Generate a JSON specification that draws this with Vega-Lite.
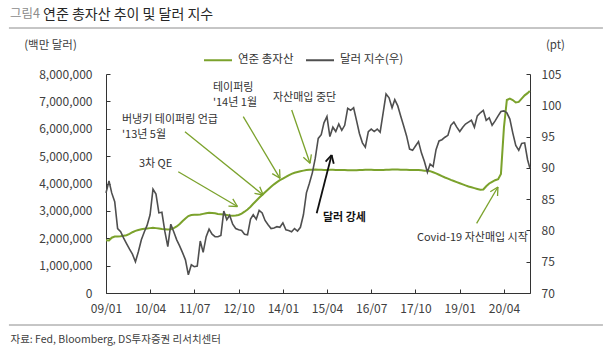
{
  "$schema": "https://vega.github.io/schema/vega-lite/v6.json",
  "width": 424,
  "height": 219,
  "autosize": {"type": "none"},
  "padding": {"left": 106, "top": 74, "right": 84, "bottom": 60},
  "background": "white",
  "title": {
    "text": "연준 총자산 추이 및 달러 지수",
    "anchor": "start",
    "frame": "group",
    "dx": -63,
    "dy": 14,
    "offset": 0,
    "font": "Noto Sans CJK KR",
    "fontSize": 14,
    "fontWeight": "normal",
    "color": "#262626"
  },
  "datasets": {
    "series": [
      {"date": "2009-01-01", "assets": 1930000, "dxy": 86.0},
      {"date": "2009-02-01", "assets": 1920000, "dxy": 87.9},
      {"date": "2009-03-01", "assets": 2020000, "dxy": 86.0},
      {"date": "2009-04-01", "assets": 2060000, "dxy": 84.6},
      {"date": "2009-05-01", "assets": 2060000, "dxy": 80.3},
      {"date": "2009-06-01", "assets": 2070000, "dxy": 79.8},
      {"date": "2009-07-01", "assets": 2090000, "dxy": 78.8},
      {"date": "2009-08-01", "assets": 2110000, "dxy": 77.9},
      {"date": "2009-09-01", "assets": 2160000, "dxy": 77.0},
      {"date": "2009-10-01", "assets": 2220000, "dxy": 76.2},
      {"date": "2009-11-01", "assets": 2270000, "dxy": 75.0},
      {"date": "2009-12-01", "assets": 2300000, "dxy": 76.6},
      {"date": "2010-01-01", "assets": 2330000, "dxy": 78.5},
      {"date": "2010-02-01", "assets": 2350000, "dxy": 79.8},
      {"date": "2010-03-01", "assets": 2360000, "dxy": 80.8},
      {"date": "2010-04-01", "assets": 2370000, "dxy": 82.5},
      {"date": "2010-05-01", "assets": 2380000, "dxy": 86.6},
      {"date": "2010-06-01", "assets": 2370000, "dxy": 85.8},
      {"date": "2010-07-01", "assets": 2360000, "dxy": 82.8},
      {"date": "2010-08-01", "assets": 2340000, "dxy": 82.9},
      {"date": "2010-09-01", "assets": 2330000, "dxy": 79.8},
      {"date": "2010-10-01", "assets": 2320000, "dxy": 77.4},
      {"date": "2010-11-01", "assets": 2330000, "dxy": 81.0},
      {"date": "2010-12-01", "assets": 2370000, "dxy": 79.8},
      {"date": "2011-01-01", "assets": 2430000, "dxy": 78.5},
      {"date": "2011-02-01", "assets": 2520000, "dxy": 77.5},
      {"date": "2011-03-01", "assets": 2620000, "dxy": 76.5},
      {"date": "2011-04-01", "assets": 2720000, "dxy": 75.3},
      {"date": "2011-05-01", "assets": 2810000, "dxy": 72.9},
      {"date": "2011-06-01", "assets": 2850000, "dxy": 74.5},
      {"date": "2011-07-01", "assets": 2860000, "dxy": 74.2},
      {"date": "2011-08-01", "assets": 2860000, "dxy": 74.3},
      {"date": "2011-09-01", "assets": 2870000, "dxy": 78.3},
      {"date": "2011-10-01", "assets": 2890000, "dxy": 76.5},
      {"date": "2011-11-01", "assets": 2910000, "dxy": 79.0},
      {"date": "2011-12-01", "assets": 2930000, "dxy": 80.2},
      {"date": "2012-01-01", "assets": 2920000, "dxy": 79.4},
      {"date": "2012-02-01", "assets": 2910000, "dxy": 79.0},
      {"date": "2012-03-01", "assets": 2890000, "dxy": 79.0},
      {"date": "2012-04-01", "assets": 2880000, "dxy": 79.2},
      {"date": "2012-05-01", "assets": 2870000, "dxy": 83.1},
      {"date": "2012-06-01", "assets": 2850000, "dxy": 81.7},
      {"date": "2012-07-01", "assets": 2830000, "dxy": 82.4},
      {"date": "2012-08-01", "assets": 2820000, "dxy": 81.0},
      {"date": "2012-09-01", "assets": 2830000, "dxy": 80.3},
      {"date": "2012-10-01", "assets": 2850000, "dxy": 80.1},
      {"date": "2012-11-01", "assets": 2900000, "dxy": 80.0},
      {"date": "2012-12-01", "assets": 2970000, "dxy": 79.4},
      {"date": "2013-01-01", "assets": 3050000, "dxy": 79.3},
      {"date": "2013-02-01", "assets": 3150000, "dxy": 81.8},
      {"date": "2013-03-01", "assets": 3260000, "dxy": 82.5},
      {"date": "2013-04-01", "assets": 3370000, "dxy": 81.8},
      {"date": "2013-05-01", "assets": 3480000, "dxy": 83.2},
      {"date": "2013-06-01", "assets": 3580000, "dxy": 82.8},
      {"date": "2013-07-01", "assets": 3680000, "dxy": 81.6},
      {"date": "2013-08-01", "assets": 3780000, "dxy": 80.9},
      {"date": "2013-09-01", "assets": 3880000, "dxy": 80.3},
      {"date": "2013-10-01", "assets": 3970000, "dxy": 80.4},
      {"date": "2013-11-01", "assets": 4050000, "dxy": 80.6},
      {"date": "2013-12-01", "assets": 4120000, "dxy": 80.5},
      {"date": "2014-01-01", "assets": 4180000, "dxy": 81.2},
      {"date": "2014-02-01", "assets": 4240000, "dxy": 80.1},
      {"date": "2014-03-01", "assets": 4300000, "dxy": 80.0},
      {"date": "2014-04-01", "assets": 4350000, "dxy": 79.8},
      {"date": "2014-05-01", "assets": 4390000, "dxy": 80.3},
      {"date": "2014-06-01", "assets": 4420000, "dxy": 79.9},
      {"date": "2014-07-01", "assets": 4450000, "dxy": 80.5},
      {"date": "2014-08-01", "assets": 4470000, "dxy": 82.5},
      {"date": "2014-09-01", "assets": 4490000, "dxy": 86.0},
      {"date": "2014-10-01", "assets": 4500000, "dxy": 87.5},
      {"date": "2014-11-01", "assets": 4500000, "dxy": 89.2},
      {"date": "2014-12-01", "assets": 4510000, "dxy": 91.5},
      {"date": "2015-01-01", "assets": 4500000, "dxy": 94.7},
      {"date": "2015-02-01", "assets": 4500000, "dxy": 95.3},
      {"date": "2015-03-01", "assets": 4490000, "dxy": 97.2},
      {"date": "2015-04-01", "assets": 4490000, "dxy": 98.2},
      {"date": "2015-05-01", "assets": 4500000, "dxy": 95.0},
      {"date": "2015-06-01", "assets": 4500000, "dxy": 96.5},
      {"date": "2015-07-01", "assets": 4490000, "dxy": 95.8},
      {"date": "2015-08-01", "assets": 4490000, "dxy": 97.0},
      {"date": "2015-09-01", "assets": 4490000, "dxy": 96.0},
      {"date": "2015-10-01", "assets": 4490000, "dxy": 96.8},
      {"date": "2015-11-01", "assets": 4480000, "dxy": 99.5},
      {"date": "2015-12-01", "assets": 4480000, "dxy": 99.2},
      {"date": "2016-01-01", "assets": 4480000, "dxy": 99.6},
      {"date": "2016-02-01", "assets": 4480000, "dxy": 97.5},
      {"date": "2016-03-01", "assets": 4490000, "dxy": 95.5},
      {"date": "2016-04-01", "assets": 4490000, "dxy": 94.0},
      {"date": "2016-05-01", "assets": 4500000, "dxy": 93.3},
      {"date": "2016-06-01", "assets": 4500000, "dxy": 95.8},
      {"date": "2016-07-01", "assets": 4500000, "dxy": 96.2},
      {"date": "2016-08-01", "assets": 4490000, "dxy": 95.8},
      {"date": "2016-09-01", "assets": 4490000, "dxy": 96.2},
      {"date": "2016-10-01", "assets": 4490000, "dxy": 95.7},
      {"date": "2016-11-01", "assets": 4490000, "dxy": 98.8},
      {"date": "2016-12-01", "assets": 4500000, "dxy": 101.8},
      {"date": "2017-01-01", "assets": 4500000, "dxy": 101.2},
      {"date": "2017-02-01", "assets": 4510000, "dxy": 99.6},
      {"date": "2017-03-01", "assets": 4510000, "dxy": 100.9},
      {"date": "2017-04-01", "assets": 4510000, "dxy": 99.9},
      {"date": "2017-05-01", "assets": 4500000, "dxy": 98.3},
      {"date": "2017-06-01", "assets": 4500000, "dxy": 96.7},
      {"date": "2017-07-01", "assets": 4500000, "dxy": 95.1},
      {"date": "2017-08-01", "assets": 4490000, "dxy": 93.0},
      {"date": "2017-09-01", "assets": 4490000, "dxy": 92.8},
      {"date": "2017-10-01", "assets": 4490000, "dxy": 93.5},
      {"date": "2017-11-01", "assets": 4490000, "dxy": 94.2},
      {"date": "2017-12-01", "assets": 4480000, "dxy": 92.4},
      {"date": "2018-01-01", "assets": 4470000, "dxy": 91.0},
      {"date": "2018-02-01", "assets": 4470000, "dxy": 89.3},
      {"date": "2018-03-01", "assets": 4450000, "dxy": 90.6},
      {"date": "2018-04-01", "assets": 4410000, "dxy": 90.2},
      {"date": "2018-05-01", "assets": 4370000, "dxy": 92.9},
      {"date": "2018-06-01", "assets": 4320000, "dxy": 94.3},
      {"date": "2018-07-01", "assets": 4270000, "dxy": 94.5},
      {"date": "2018-08-01", "assets": 4220000, "dxy": 94.9},
      {"date": "2018-09-01", "assets": 4180000, "dxy": 95.2},
      {"date": "2018-10-01", "assets": 4130000, "dxy": 96.8},
      {"date": "2018-11-01", "assets": 4090000, "dxy": 97.3},
      {"date": "2018-12-01", "assets": 4050000, "dxy": 96.5},
      {"date": "2019-01-01", "assets": 4010000, "dxy": 95.8},
      {"date": "2019-02-01", "assets": 3970000, "dxy": 96.5},
      {"date": "2019-03-01", "assets": 3930000, "dxy": 97.0},
      {"date": "2019-04-01", "assets": 3890000, "dxy": 97.3},
      {"date": "2019-05-01", "assets": 3860000, "dxy": 97.6},
      {"date": "2019-06-01", "assets": 3830000, "dxy": 96.5},
      {"date": "2019-07-01", "assets": 3800000, "dxy": 98.3},
      {"date": "2019-08-01", "assets": 3770000, "dxy": 98.8},
      {"date": "2019-09-01", "assets": 3780000, "dxy": 99.2},
      {"date": "2019-10-01", "assets": 3900000, "dxy": 97.6},
      {"date": "2019-11-01", "assets": 4000000, "dxy": 98.0},
      {"date": "2019-12-01", "assets": 4060000, "dxy": 96.8},
      {"date": "2020-01-01", "assets": 4120000, "dxy": 97.5},
      {"date": "2020-02-01", "assets": 4160000, "dxy": 98.3},
      {"date": "2020-03-01", "assets": 4350000, "dxy": 99.0},
      {"date": "2020-04-01", "assets": 6050000, "dxy": 99.1},
      {"date": "2020-05-01", "assets": 7050000, "dxy": 98.8},
      {"date": "2020-06-01", "assets": 7100000, "dxy": 97.8},
      {"date": "2020-07-01", "assets": 7050000, "dxy": 95.6},
      {"date": "2020-08-01", "assets": 6960000, "dxy": 93.6},
      {"date": "2020-09-01", "assets": 6980000, "dxy": 92.8},
      {"date": "2020-10-01", "assets": 7100000, "dxy": 93.9},
      {"date": "2020-11-01", "assets": 7220000, "dxy": 94.0},
      {"date": "2020-12-01", "assets": 7300000, "dxy": 91.3},
      {"date": "2020-12-24", "assets": 7380000, "dxy": 90.0}
    ],
    "arrows": [
      {"arrow": "3차 QE", "date": "2011-01-17", "v": 4431000, "date2": "2012-09-19", "v2": 3159800},
      {"arrow": "3차 QE", "date": "2012-09-19", "v": 3159800, "date2": "2012-08-02", "v2": 3441100},
      {"arrow": "3차 QE", "date": "2012-09-19", "v": 3159800, "date2": "2012-06-18", "v2": 3174500},
      {"arrow": "버냉키", "date": "2011-03-27", "v": 5892300, "date2": "2013-06-12", "v2": 3579900},
      {"arrow": "버냉키", "date": "2013-06-12", "v": 3579900, "date2": "2013-05-07", "v2": 3883100},
      {"arrow": "버냉키", "date": "2013-06-12", "v": 3579900, "date2": "2013-03-14", "v2": 3642000},
      {"arrow": "테이퍼링", "date": "2012-11-18", "v": 6440200, "date2": "2013-12-02", "v2": 4190000},
      {"arrow": "테이퍼링", "date": "2013-12-02", "v": 4190000, "date2": "2013-11-28", "v2": 4518800},
      {"arrow": "테이퍼링", "date": "2013-12-02", "v": 4190000, "date2": "2013-09-13", "v2": 4361700},
      {"arrow": "자산매입 중단", "date": "2014-04-02", "v": 6685000, "date2": "2014-10-08", "v2": 4737900},
      {"arrow": "자산매입 중단", "date": "2014-10-08", "v": 4737900, "date2": "2014-10-22", "v2": 5063100},
      {"arrow": "자산매입 중단", "date": "2014-10-08", "v": 4737900, "date2": "2014-07-31", "v2": 4960800},
      {"arrow": "달러 강세", "date": "2014-12-16", "v": 2911400, "date2": "2015-05-19", "v2": 5041100},
      {"arrow": "달러 강세", "date": "2015-05-19", "v": 5041100, "date2": "2015-03-18", "v2": 4800000},
      {"arrow": "달러 강세", "date": "2015-05-19", "v": 5041100, "date2": "2015-06-10", "v2": 4723300},
      {"arrow": "Covid-19", "date": "2019-06-24", "v": 2546100, "date2": "2020-01-30", "v2": 3872200},
      {"arrow": "Covid-19", "date": "2020-01-30", "v": 3872200, "date2": "2019-11-12", "v2": 3700500},
      {"arrow": "Covid-19", "date": "2020-01-30", "v": 3872200, "date2": "2020-01-26", "v2": 3543400}
    ],
    "notes": [
      {"label": "3차 QE", "date": "2009-12-07", "v": 4701400},
      {"label": "버냉키 테이퍼링 언급", "date": "2009-06-15", "v": 6319700},
      {"label": "'13년 5월", "date": "2009-06-15", "v": 5771700},
      {"label": "테이퍼링", "date": "2012-01-10", "v": 7477700},
      {"label": "'14년 1월", "date": "2012-01-10", "v": 6951700},
      {"label": "자산매입 중단", "date": "2013-09-21", "v": 7112400},
      {"label": "Covid-19 자산매입 시작", "date": "2017-10-16", "v": 2020100}
    ],
    "strong": [
      {"label": "달러 강세", "date": "2015-02-19", "v": 2728800}
    ],
    "figno": [
      {"label": "그림4", "date": "2006-04-16", "v": 10191870}
    ],
    "rules": [
      {"edge": "top", "date": "2006-04-05", "date2": "2023-01-18", "v": 9680000},
      {"edge": "bottom", "date": "2006-04-05", "date2": "2023-01-18", "v": -1169000}
    ]
  },
  "layer": [
    {
      "encoding": {
        "x": {
          "field": "date", "type": "temporal",
          "scale": {"type": "utc", "domain": [{"year": 2009, "month": 1, "date": 1, "utc": true}, {"year": 2020, "month": 12, "date": 26, "utc": true}], "nice": false},
          "axis": {
            "values": [
              {"year": 2009, "month": 1, "date": 1, "utc": true},
              {"year": 2010, "month": 4, "date": 1, "utc": true},
              {"year": 2011, "month": 7, "date": 1, "utc": true},
              {"year": 2012, "month": 10, "date": 1, "utc": true},
              {"year": 2014, "month": 1, "date": 1, "utc": true},
              {"year": 2015, "month": 4, "date": 1, "utc": true},
              {"year": 2016, "month": 7, "date": 1, "utc": true},
              {"year": 2017, "month": 10, "date": 1, "utc": true},
              {"year": 2019, "month": 1, "date": 1, "utc": true},
              {"year": 2020, "month": 4, "date": 1, "utc": true}
            ],
            "format": "%y/%m",
            "labelPadding": 14,
            "labelFlush": false,
            "title": "자료: Fed, Bloomberg, DS투자증권 리서치센터",
            "titleX": -96,
            "titleY": 46,
            "titleAlign": "left",
            "titleBaseline": "middle",
            "titleFontSize": 10.5,
            "titleFontWeight": "normal",
            "titleColor": "#404040"
          }
        },
        "y": {
          "field": "v", "type": "quantitative",
          "scale": {"domain": [0, 8000000], "nice": false},
          "axis": {
            "orient": "left",
            "values": [0, 1000000, 2000000, 3000000, 4000000, 5000000, 6000000, 7000000, 8000000],
            "labelExpr": "format(datum.value, ',')",
            "labelPadding": 18,
            "title": "(백만 달러)",
            "titleAngle": 0,
            "titleX": -56,
            "titleY": -29,
            "titleAlign": "center",
            "titleBaseline": "middle",
            "titleFontSize": 11.5,
            "titleFontWeight": "normal",
            "titleColor": "#404040"
          }
        }
      },
      "layer": [
        {
          "data": {"name": "series"},
          "mark": {"type": "line", "strokeWidth": 2},
          "encoding": {
            "y": {
              "field": "assets", "type": "quantitative",
              "scale": {"domain": [0, 8000000], "nice": false},
              "axis": {
                "orient": "left",
                "values": [0, 1000000, 2000000, 3000000, 4000000, 5000000, 6000000, 7000000, 8000000],
                "labelExpr": "format(datum.value, ',')",
                "labelPadding": 18,
                "title": "(백만 달러)",
                "titleAngle": 0,
                "titleX": -56,
                "titleY": -29,
                "titleAlign": "center",
                "titleBaseline": "middle",
                "titleFontSize": 11.5,
                "titleFontWeight": "normal",
                "titleColor": "#404040"
              }
            },
            "color": {
              "datum": "연준 총자산", "type": "nominal",
              "scale": {"domain": ["연준 총자산", "달러 지수(우)"], "range": ["#7ba22c", "#4f4f4f"]},
              "legend": {
                "orient": "none", "legendX": 97, "legendY": -29, "direction": "horizontal",
                "title": null, "symbolType": "stroke", "symbolSize": 784, "symbolStrokeWidth": 2,
                "labelFont": "Noto Sans CJK KR", "labelFontSize": 11.5, "labelColor": "#333333",
                "labelOffset": 5, "columnPadding": 8, "padding": 0
              }
            }
          }
        },
        {
          "data": {"name": "arrows"},
          "transform": [{"filter": "datum.arrow !== '달러 강세'"}],
          "mark": {"type": "rule", "color": "#7ba22c", "strokeWidth": 1.3},
          "encoding": {"x2": {"field": "date2"}, "y2": {"field": "v2"}}
        },
        {
          "data": {"name": "arrows"},
          "transform": [{"filter": "datum.arrow === '달러 강세'"}],
          "mark": {"type": "rule", "color": "#111111", "strokeWidth": 1.8},
          "encoding": {"x2": {"field": "date2"}, "y2": {"field": "v2"}}
        },
        {
          "data": {"name": "notes"},
          "mark": {"type": "text", "align": "left", "baseline": "middle", "font": "Noto Sans CJK KR", "fontSize": 11, "color": "#333333"},
          "encoding": {"text": {"field": "label"}}
        },
        {
          "data": {"name": "strong"},
          "mark": {"type": "text", "align": "left", "baseline": "middle", "font": "Noto Sans CJK KR", "fontSize": 11, "fontWeight": "bold", "color": "#111111"},
          "encoding": {"text": {"field": "label"}}
        },
        {
          "data": {"name": "figno"},
          "mark": {"type": "text", "align": "left", "baseline": "middle", "font": "Noto Sans CJK KR", "fontSize": 12.5, "color": "#8c8c8c"},
          "encoding": {"text": {"field": "label"}}
        },
        {
          "data": {"name": "rules"},
          "mark": {"type": "rule", "color": "#8c8c8c", "strokeWidth": 1, "clip": false},
          "encoding": {"x2": {"field": "date2"}}
        }
      ]
    },
    {
      "data": {"name": "series"},
      "mark": {"type": "line", "strokeWidth": 1.6},
      "encoding": {
        "x": {
          "field": "date", "type": "temporal",
          "scale": {"type": "utc", "domain": [{"year": 2009, "month": 1, "date": 1, "utc": true}, {"year": 2020, "month": 12, "date": 26, "utc": true}], "nice": false},
          "axis": {
            "values": [
              {"year": 2009, "month": 1, "date": 1, "utc": true},
              {"year": 2010, "month": 4, "date": 1, "utc": true},
              {"year": 2011, "month": 7, "date": 1, "utc": true},
              {"year": 2012, "month": 10, "date": 1, "utc": true},
              {"year": 2014, "month": 1, "date": 1, "utc": true},
              {"year": 2015, "month": 4, "date": 1, "utc": true},
              {"year": 2016, "month": 7, "date": 1, "utc": true},
              {"year": 2017, "month": 10, "date": 1, "utc": true},
              {"year": 2019, "month": 1, "date": 1, "utc": true},
              {"year": 2020, "month": 4, "date": 1, "utc": true}
            ],
            "format": "%y/%m",
            "labelPadding": 14,
            "labelFlush": false,
            "title": "자료: Fed, Bloomberg, DS투자증권 리서치센터",
            "titleX": -96,
            "titleY": 46,
            "titleAlign": "left",
            "titleBaseline": "middle",
            "titleFontSize": 10.5,
            "titleFontWeight": "normal",
            "titleColor": "#404040"
          }
        },
        "y": {
          "field": "dxy", "type": "quantitative",
          "scale": {"domain": [70, 105], "nice": false, "zero": false},
          "axis": {
            "orient": "right",
            "values": [70, 75, 80, 85, 90, 95, 100, 105],
            "labelPadding": 15,
            "title": "(pt)",
            "titleAngle": 0,
            "titleX": 25,
            "titleY": -29,
            "titleAlign": "center",
            "titleBaseline": "middle",
            "titleFontSize": 11.5,
            "titleFontWeight": "normal",
            "titleColor": "#404040"
          }
        },
        "color": {"datum": "달러 지수(우)", "type": "nominal"}
      }
    }
  ],
  "resolve": {"scale": {"y": "independent"}},
  "config": {
    "view": {"stroke": null},
    "font": "Noto Sans CJK KR",
    "axis": {
      "grid": false,
      "domainColor": "#333333",
      "domainWidth": 1,
      "tickColor": "#333333",
      "tickSize": -4,
      "labelColor": "#404040",
      "labelFont": "Noto Sans CJK KR",
      "labelFontSize": 12,
      "titleFont": "Noto Sans CJK KR"
    }
  }
}
